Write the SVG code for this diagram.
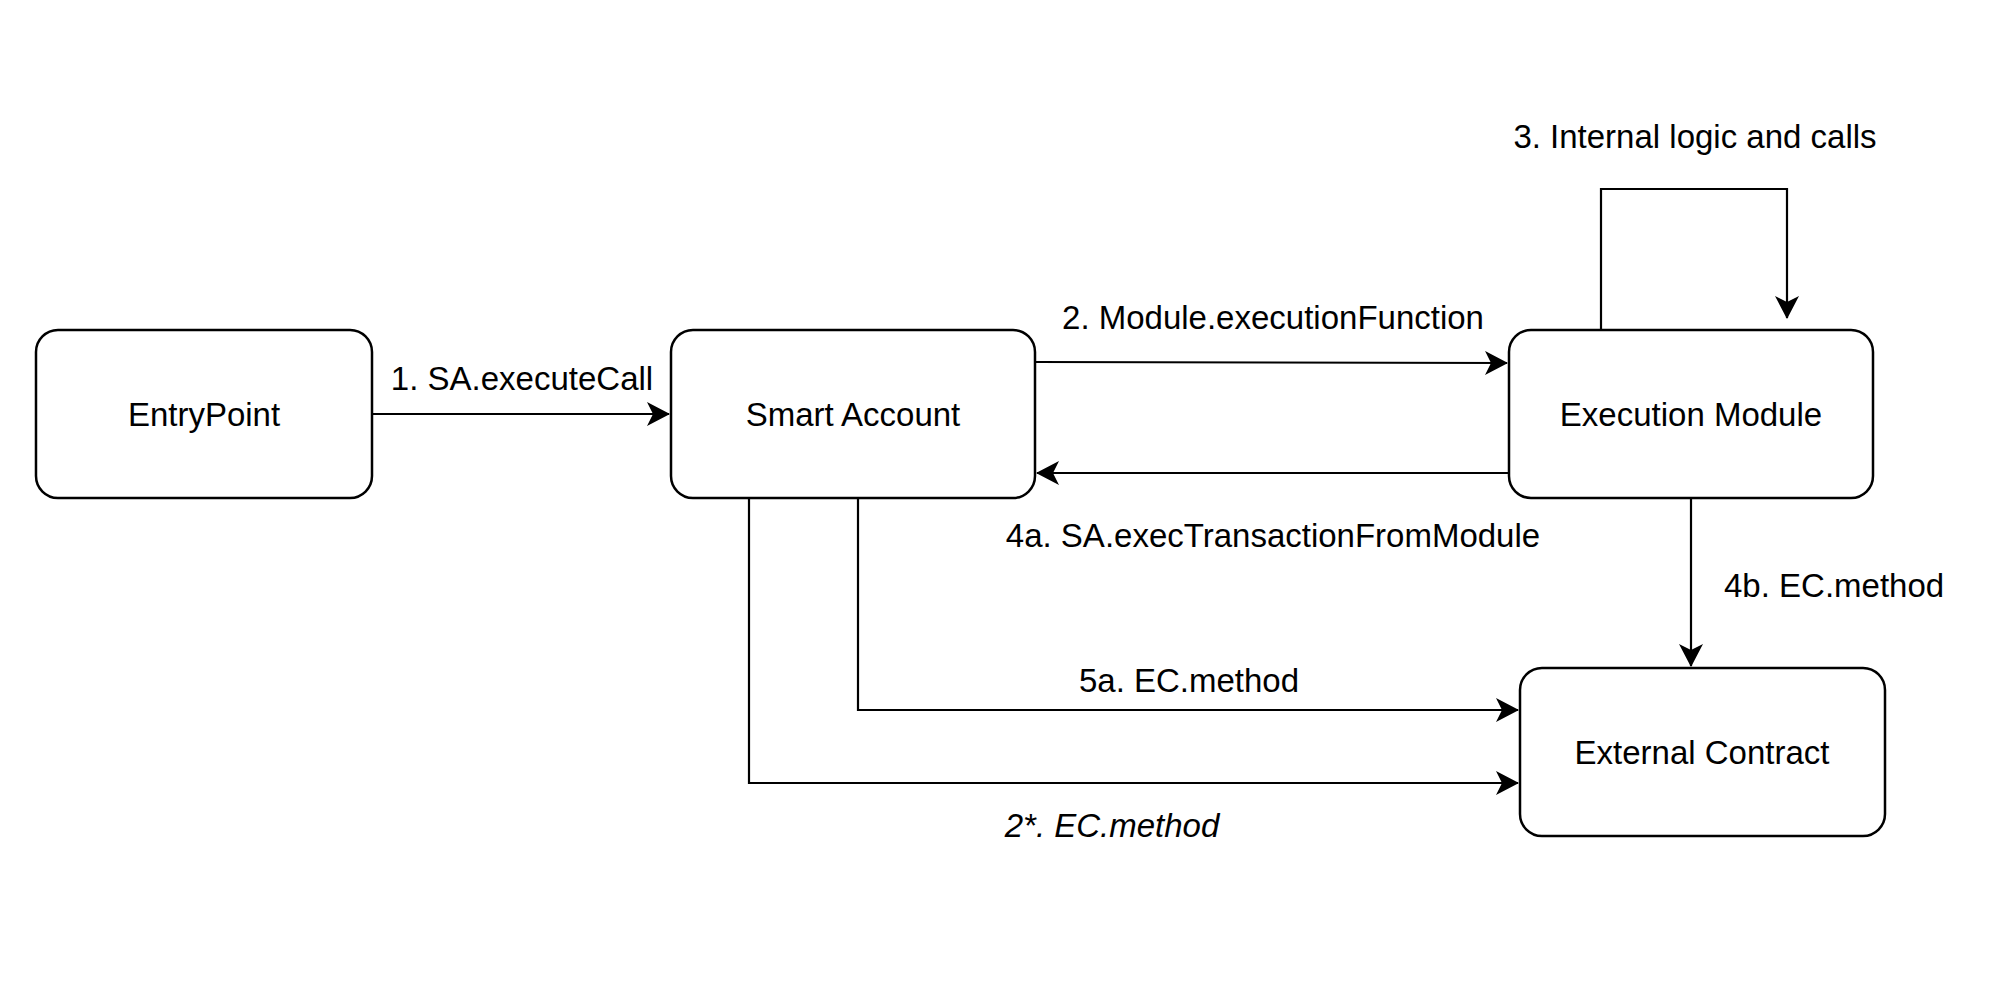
<svg xmlns="http://www.w3.org/2000/svg" width="2000" height="992" viewBox="0 0 2000 992">
  <style>
    .box { fill: #ffffff; stroke: #000000; stroke-width: 2.5; }
    .lbl { font-family: "Liberation Sans", Arial, Helvetica, sans-serif; font-size: 33px; fill: #000000; }
    .edge { fill: none; stroke: #000000; stroke-width: 2.2; }
  </style>
  <defs>
    <marker id="arrow" markerUnits="userSpaceOnUse" viewBox="0 0 23 24" markerWidth="23" markerHeight="24" refX="22" refY="12" orient="auto">
      <path d="M0,0 L23,12 L0,24 L6,12 Z" fill="#000000"/>
    </marker>
  </defs>
  <rect width="2000" height="992" fill="#ffffff"/>

  <g id="connectors">
    <path class="edge" d="M372,414 L669,414" marker-end="url(#arrow)"/>
    <path class="edge" d="M1035,362 L1507,363" marker-end="url(#arrow)"/>
    <path class="edge" d="M1509,473 L1037,473" marker-end="url(#arrow)"/>
    <path class="edge" d="M1601,330 L1601,189 L1787,189 L1787,318" marker-end="url(#arrow)"/>
    <path class="edge" d="M1691,498 L1691,666" marker-end="url(#arrow)"/>
    <path class="edge" d="M858,498 L858,710 L1518,710" marker-end="url(#arrow)"/>
    <path class="edge" d="M749,498 L749,783 L1518,783" marker-end="url(#arrow)"/>
  </g>

  <g id="edge-labels">
    <text class="lbl" x="522" y="390" text-anchor="middle">1. SA.executeCall</text>
    <text class="lbl" x="1273" y="329" text-anchor="middle">2. Module.executionFunction</text>
    <text class="lbl" x="1695" y="148" text-anchor="middle">3. Internal logic and calls</text>
    <text class="lbl" x="1273" y="547" text-anchor="middle">4a. SA.execTransactionFromModule</text>
    <text class="lbl" x="1724" y="597">4b. EC.method</text>
    <text class="lbl" x="1189" y="692" text-anchor="middle">5a. EC.method</text>
    <text class="lbl" x="1112" y="837" text-anchor="middle" font-style="italic">2*. EC.method</text>
  </g>

  <g id="entrypoint">
    <rect class="box" x="36" y="330" width="336" height="168" rx="22" ry="22"/>
    <text class="lbl" x="204" y="426" text-anchor="middle">EntryPoint</text>
  </g>
  <g id="smart-account">
    <rect class="box" x="671" y="330" width="364" height="168" rx="22" ry="22"/>
    <text class="lbl" x="853" y="426" text-anchor="middle">Smart Account</text>
  </g>
  <g id="execution-module">
    <rect class="box" x="1509" y="330" width="364" height="168" rx="22" ry="22"/>
    <text class="lbl" x="1691" y="426" text-anchor="middle">Execution Module</text>
  </g>
  <g id="external-contract">
    <rect class="box" x="1520" y="668" width="365" height="168" rx="22" ry="22"/>
    <text class="lbl" x="1702" y="764" text-anchor="middle">External Contract</text>
  </g>
</svg>
